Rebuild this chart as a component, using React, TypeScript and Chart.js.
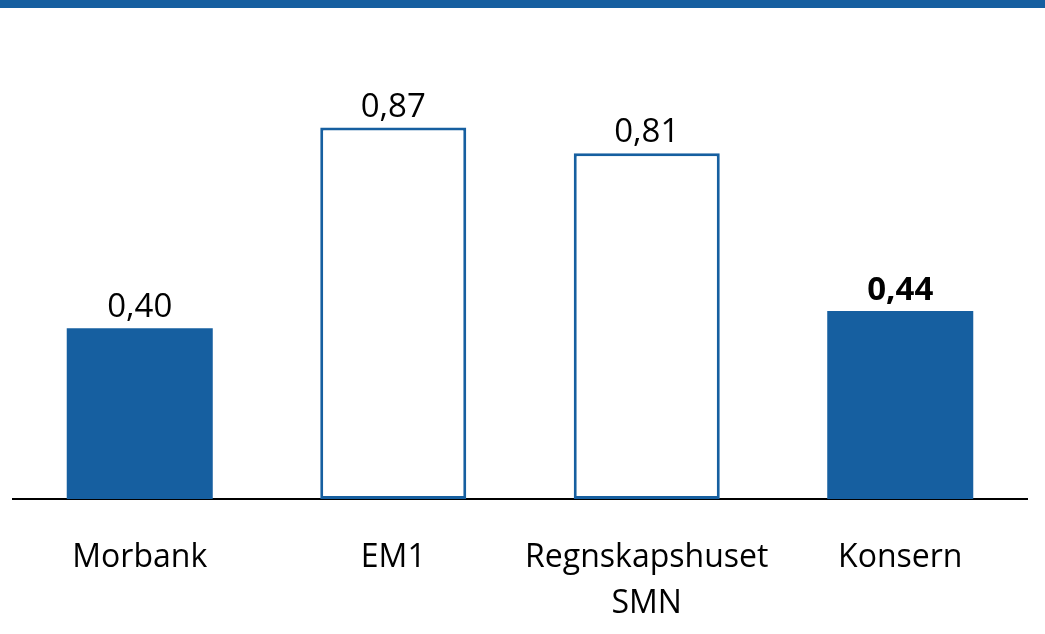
import React, { useEffect, useRef } from "react";
import { Chart, registerables } from "chart.js";

Chart.register(...registerables);

const categories: (string | string[])[] = ["Morbank", "EM1", ["Regnskapshuset", "SMN"], "Konsern"];
const values: number[] = [0.4, 0.87, 0.81, 0.44];
const valueLabels: string[] = ["0,40", "0,87", "0,81", "0,44"];
const boldLabel: boolean[] = [false, false, false, true];
const filled: boolean[] = [true, false, false, true];

const BLUE = "#165FA0";

const decor = {
  id: "decor",
  beforeDraw(chart: any) {
    const ctx = chart.ctx;
    ctx.save();
    ctx.fillStyle = "#ffffff";
    ctx.fillRect(0, 0, chart.width, chart.height);
    ctx.fillStyle = BLUE;
    ctx.fillRect(0, 0, chart.width, 8);
    ctx.restore();
  },
  afterDatasetsDraw(chart: any) {
    const ctx = chart.ctx;
    const meta = chart.getDatasetMeta(0);
    ctx.save();
    ctx.fillStyle = "#000000";
    ctx.textAlign = "center";
    ctx.textBaseline = "alphabetic";
    meta.data.forEach((bar: any, i: number) => {
      ctx.font = `${boldLabel[i] ? "bold " : ""}33px "Open Sans"`;
      ctx.fillText(valueLabels[i], bar.x, bar.y - 11);
    });
    ctx.restore();
  },
};

export default function App() {
  const ref = useRef<HTMLCanvasElement>(null);
  useEffect(() => {
    document.body.style.margin = "0";
    const chart = new Chart(ref.current!, {
      type: "bar",
      data: {
        labels: categories,
        datasets: [
          {
            data: values,
            backgroundColor: filled.map((f) => (f ? BLUE : "#ffffff")),
            borderColor: BLUE,
            borderWidth: filled.map((f) => (f ? 0 : 3)),
            borderSkipped: false,
            barPercentage: 0.576,
            categoryPercentage: 1,
          },
        ],
      },
      options: {
        animation: false,
        responsive: false,
        maintainAspectRatio: false,
        layout: { padding: { top: 72, left: 13, right: 18, bottom: 0 } },
        plugins: { legend: { display: false }, tooltip: { enabled: false } },
        scales: {
          y: { display: false, min: 0, max: 1 },
          x: {
            grid: { display: false, drawTicks: false },
            border: { display: true, color: "#000000", width: 2 },
            ticks: {
              color: "#000000",
              padding: 36,
              maxRotation: 0,
              autoSkip: false,
              font: { family: '"Open Sans"', size: 32, lineHeight: "46px" },
            },
            afterFit: (scale: any) => {
              scale.height = 135;
            },
          },
        },
      },
      plugins: [decor],
    });
    return () => chart.destroy();
  }, []);
  return (
    <div style={{ width: 1045, height: 634 }}>
      <canvas ref={ref} width={1045} height={634} style={{ display: "block" }} />
    </div>
  );
}
